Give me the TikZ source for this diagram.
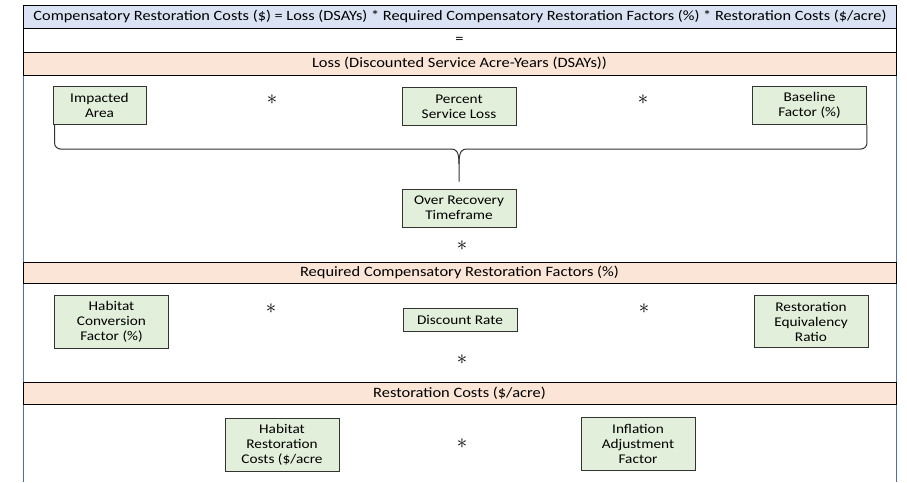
\documentclass[tikz,border=0pt]{standalone}
\usepackage{fontspec}
\setmainfont{Carlito}[FakeStretch=1.15]
\usepackage{xcolor}
\usepackage{tikz}
\usetikzlibrary{calc,positioning}
\definecolor{headblue}{HTML}{DAE3F3}
\definecolor{lossrose}{HTML}{FBE5D6}
\definecolor{factgreen}{HTML}{E2EFDA}
\definecolor{framblue}{HTML}{4A6FB5}
\definecolor{boxgray}{HTML}{333333}
\tikzset{
  bar/.style={draw=black, line width=1pt, minimum width=873pt, minimum height=23pt,
    inner sep=0pt, font=\fontsize{14.3}{15}\selectfont},
  factor/.style={draw=boxgray, line width=0.9pt, fill=factgreen, minimum width=114pt,
    inner sep=0pt, align=center, font=\fontsize{13.3}{15}\selectfont},
  times/.style={inner sep=0pt, font=\huge},
  braceline/.style={draw=black!80, line width=1pt}
}

\begin{document}
\begin{tikzpicture}[x=1pt,y=-1pt]
  \useasboundingbox (0,0) rectangle (907,482);
  % side frame of the white areas
  \draw[framblue, line width=0.8pt] (23,5) -- (23,482);
  \draw[framblue, line width=0.8pt] (896,5) -- (896,482);
  % header bars
  \node[bar, fill=headblue, font=\fontsize{14.2}{15}\selectfont] (formula) at (460,16.5) {Compensatory Restoration Costs (\$) = Loss (DSAYs) * Required Compensatory Restoration Factors (\%) * Restoration Costs (\$/acre)};
  \node[bar, fill=white, minimum height=24pt] (equals) at (459.5,40) {=};
  \node[bar, fill=lossrose] (loss) at (459.5,63.5) {Loss (Discounted Service Acre-Years (DSAYs))};
  \node[bar, fill=lossrose, minimum height=21pt] (required) at (459.5,272.5) {Required Compensatory Restoration Factors (\%)};
  \node[bar, fill=lossrose, minimum height=22pt] (costs) at (459.5,393) {Restoration Costs (\$/acre)};
  % loss
  \node[factor, minimum width=93pt, minimum height=38pt] (impact) at (99.5,105) {Impacted\\Area};
  \node[factor, minimum height=38pt] (pct) at (459,106.5) {Percent\\Service Loss};
  \node[factor, minimum height=38pt] (base) at (809.5,105.5) {Baseline\\Factor (\%)};
  \node[factor, minimum height=38pt] (recov) at (459,208) {Over Recovery\\Timeframe};
  \node[times] (t1) at (272,100) {$\ast$};
  \node[times] (t2) at (643,100) {$\ast$};
  \node[times] (t3) at (462,246) {$\ast$};
  \coordinate (tip) at ($(recov.north)+(0,-7)$);
  \draw[braceline, rounded corners=6pt] ([xshift=2pt]impact.south west) |- (451,149);
  \draw[braceline] (451,149) .. controls (456,149) and (459,151) .. (459,164) -- (tip);
  \draw[braceline, rounded corners=6pt] (base.south east) |- (467,149);
  \draw[braceline] (467,149) .. controls (462,149) and (459,151) .. (459,164);
  % required factors
  \node[factor, minimum height=53pt] (conv) at (111.5,321.5) {Habitat\\Conversion\\Factor (\%)};
  \node[factor, minimum height=23pt] (disc) at (460,319.5) {Discount Rate};
  \node[factor, minimum height=52pt] (equiv) at (811,321.5) {Restoration\\Equivalency\\Ratio};
  \node[times] (t4) at (271,309) {$\ast$};
  \node[times] (t5) at (644,309) {$\ast$};
  \node[times] (t6) at (462,360) {$\ast$};
  % restoration costs
  \node[factor, minimum height=53pt] (hrc) at (282,444.5) {Habitat\\Restoration\\Costs (\$/acre};
  \node[factor, minimum height=53pt] (infl) at (638,443.5) {Inflation\\Adjustment\\Factor};
  \node[times] (t7) at (462,444) {$\ast$};
\end{tikzpicture}
\end{document}
